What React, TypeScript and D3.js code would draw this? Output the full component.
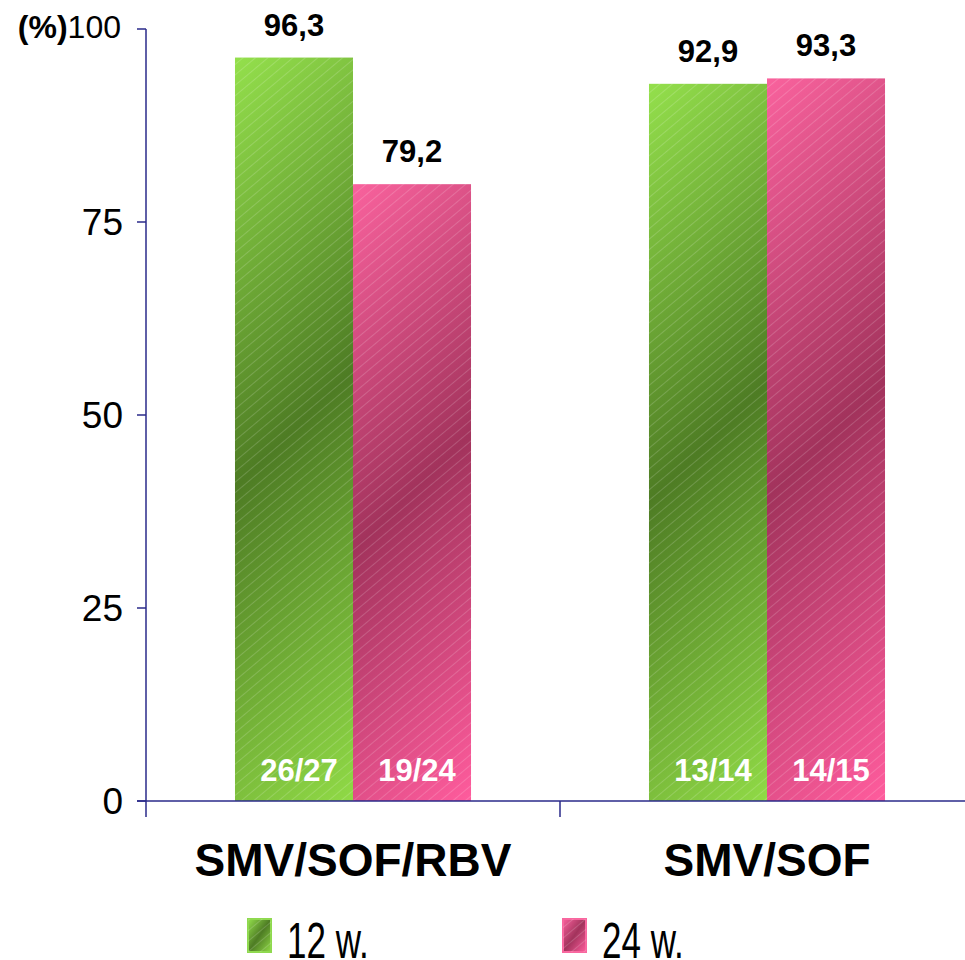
import React from "react";
import * as d3 from "d3";

const categories = ["SMV/SOF/RBV", "SMV/SOF"];
const series = ["12 w.", "24 w."];
const values12w = [96.3, 92.9];
const values24w = [79.9, 93.6];
const valueLabels12w = ["96,3", "92,9"];
const valueLabels24w = ["79,2", "93,3"];
const countLabels12w = ["26/27", "13/14"];
const countLabels24w = ["19/24", "14/15"];
const yTicks = [0, 25, 50, 75, 100];

const W = 965;
const H = 960;
const FONT = "'Liberation Sans', Arial, sans-serif";
const AXIS = "#2a2a8a";

const palettes = [
  { light: "#94e04c", mid: "#4e7c24", end: "#90da46", border: "#8fd94f" },
  { light: "#f9629d", mid: "#a2335c", end: "#ff5c9d", border: "#f8679f" },
];

function Stops({ k }: { k: number }) {
  const p = palettes[k];
  return (
    <>
      <stop offset="0" stopColor={p.light} />
      <stop offset="0.5" stopColor={p.mid} />
      <stop offset="1" stopColor={p.end} />
    </>
  );
}

export default function App() {
  const x = d3.scaleBand<string>().domain(categories).range([146, 974]).paddingInner(0).paddingOuter(0);
  const xs = d3.scaleBand<string>().domain(series).range([0, x.bandwidth()]).paddingInner(0).paddingOuter(0.754);
  const y = d3.scaleLinear().domain([0, 100]).range([801, 29]);

  const rows = categories.map((c, i) => ({
    cat: c,
    bars: [
      { s: series[0], v: values12w[i], label: valueLabels12w[i], count: countLabels12w[i], k: 0 },
      { s: series[1], v: values24w[i], label: valueLabels24w[i], count: countLabels24w[i], k: 1 },
    ],
  }));

  const bars = rows.flatMap((r, i) =>
    r.bars.map((b) => {
      const bx = (x(r.cat) ?? 0) + (xs(b.s) ?? 0);
      const bw = xs.bandwidth();
      const by = y(b.v);
      const bh = y(0) - by;
      return { ...b, cat: r.cat, id: `bar${i}_${b.k}`, bx, bw, by, bh };
    })
  );

  const legendX = [248, 563];

  return (
    <svg width={W} height={H} style={{ position: "absolute", left: 0, top: 0, background: "#fff" }} fontFamily={FONT}>
      <defs>
        {bars.map((b) => {
          const s = (b.bw + b.bh) / 2;
          return (
            <linearGradient key={b.id} id={b.id} gradientUnits="userSpaceOnUse" x1={b.bx} y1={b.by} x2={b.bx + s} y2={b.by + s}>
              <Stops k={b.k} />
            </linearGradient>
          );
        })}
        {series.map((s, k) => (
          <linearGradient key={s} id={`leg${k}`} x1="0" y1="0" x2="1" y2="1">
            <Stops k={k} />
          </linearGradient>
        ))}
        <pattern id="stripes" patternUnits="userSpaceOnUse" width="8" height="8" patternTransform="rotate(50)">
          <line x1="0.5" y1="0" x2="0.5" y2="8" stroke="#ffffff" strokeOpacity="0.17" strokeWidth="1" />
        </pattern>
      </defs>

      {/* bars */}
      {bars.map((b) => (
        <g key={b.id}>
          <rect x={b.bx} y={b.by} width={b.bw} height={b.bh} fill={`url(#${b.id})`} />
          <rect x={b.bx} y={b.by} width={b.bw} height={b.bh} fill="url(#stripes)" />
          <text x={b.bx + b.bw / 2} y={b.by - 22} textAnchor="middle" fontSize={31} fontWeight="bold" fill="#000">
            {b.label}
          </text>
          <text x={b.bx + b.bw / 2 + 5} y={y(0) - 20} textAnchor="middle" fontSize={31} fontWeight="bold" fill="#fff">
            {b.count}
          </text>
        </g>
      ))}

      {/* y axis */}
      <line x1={146} x2={146} y1={y(100)} y2={817} stroke={AXIS} strokeWidth={1.5} />
      {yTicks.map((t) => (
        <g key={t}>
          <line x1={137} x2={146} y1={y(t)} y2={y(t)} stroke={AXIS} strokeWidth={1.5} />
          {t === 100 ? (
            <text x={121} y={y(t) - 2} textAnchor="end" dominantBaseline="central" fontSize={32} fill="#000">
              <tspan fontWeight="bold">(%)</tspan>
              {t}
            </text>
          ) : (
            <text x={123} y={y(t)} textAnchor="end" dominantBaseline="central" fontSize={37} fill="#000">
              {t}
            </text>
          )}
        </g>
      ))}

      {/* x axis */}
      <line x1={137} x2={W} y1={y(0)} y2={y(0)} stroke={AXIS} strokeWidth={1.5} />
      {categories.map((c) => (
        <line key={c} x1={(x(c) ?? 0) + x.bandwidth()} x2={(x(c) ?? 0) + x.bandwidth()} y1={y(0)} y2={817} stroke={AXIS} strokeWidth={1.5} />
      ))}
      {categories.map((c) => (
        <text key={c} x={(x(c) ?? 0) + x.bandwidth() / 2} y={876} textAnchor="middle" fontSize={46} fontWeight="bold" fill="#000">
          {c}
        </text>
      ))}

      {/* legend */}
      {series.map((s, k) => {
        const lx = legendX[k];
        return (
          <g key={s}>
            <rect x={lx} y={919} width={23} height={33} fill={`url(#leg${k})`} stroke={palettes[k].border} strokeWidth={2} />
            <rect x={lx} y={919} width={23} height={33} fill="url(#stripes)" />
            <text transform={`translate(${lx + 39},${958}) scale(0.7,1)`} fontSize={50} fill="#000">
              {s}
            </text>
          </g>
        );
      })}
    </svg>
  );
}
